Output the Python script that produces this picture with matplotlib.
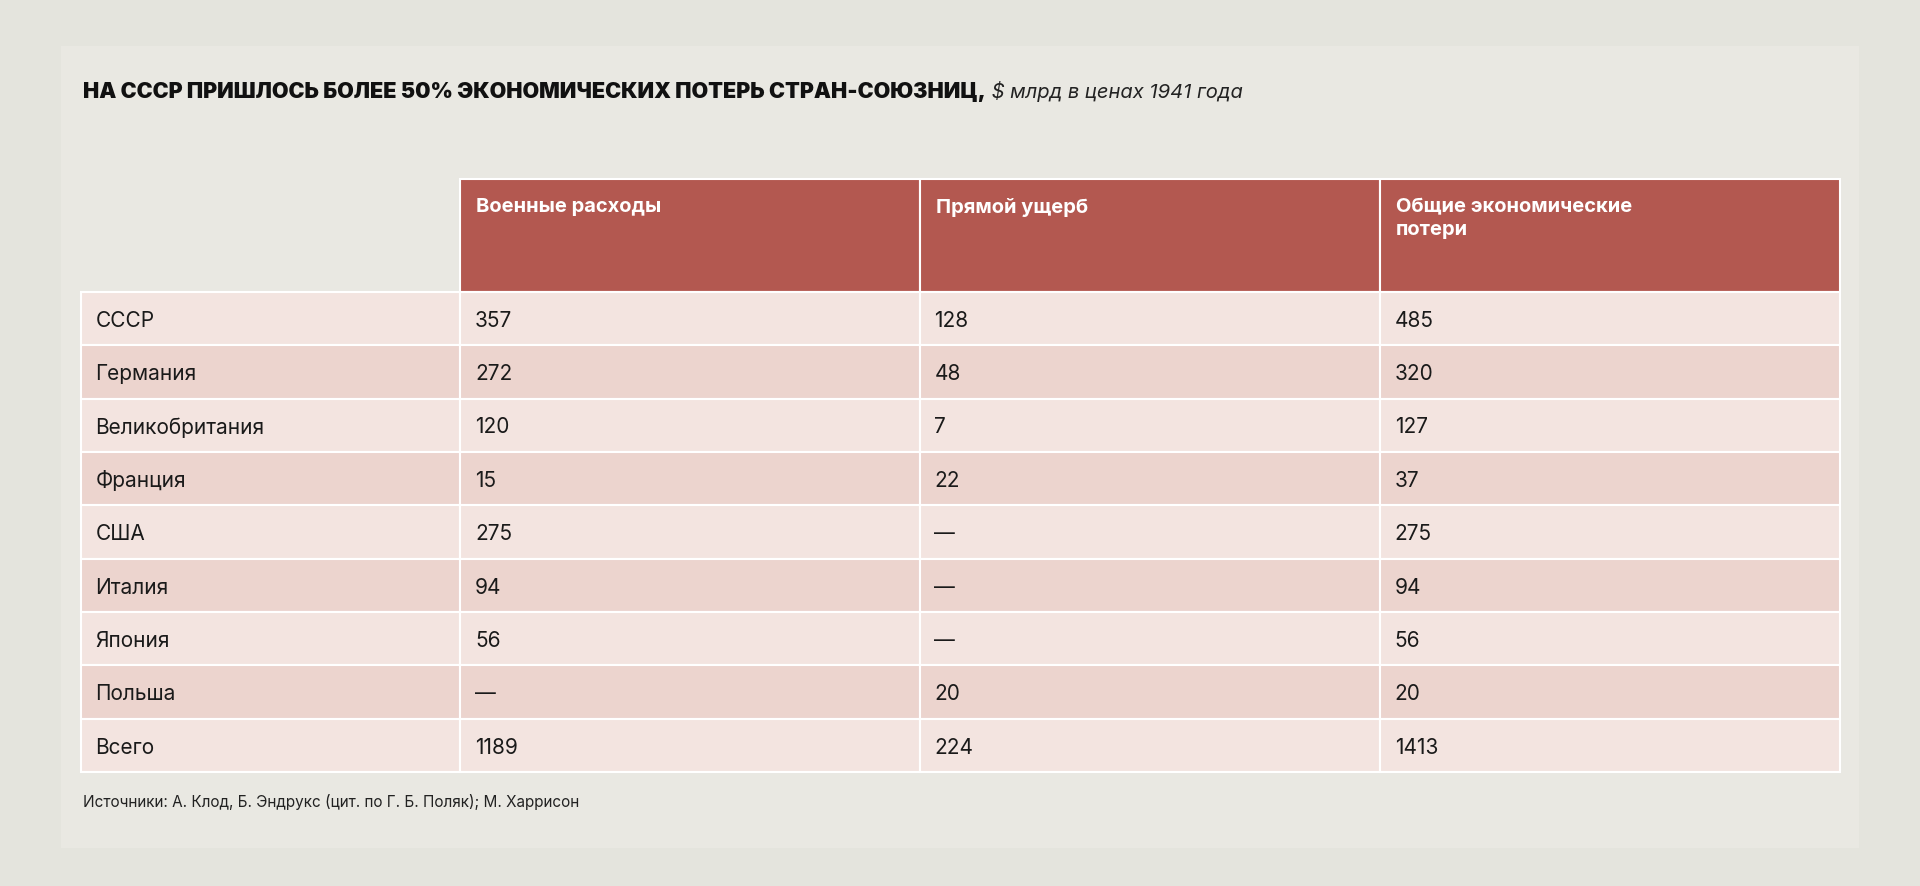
import matplotlib
matplotlib.use("Agg")
import matplotlib.pyplot as plt
from matplotlib.patches import Rectangle

title_bold = "НА СССР ПРИШЛОСЬ БОЛЕЕ 50% ЭКОНОМИЧЕСКИХ ПОТЕРЬ СТРАН-СОЮЗНИЦ,"
title_it = " $ млрд в ценах 1941 года"
headers = ["Военные расходы", "Прямой ущерб", "Общие экономические\nпотери"]
countries = ["СССР", "Германия", "Великобритания", "Франция", "США", "Италия", "Япония", "Польша", "Всего"]
military = ["357", "272", "120", "15", "275", "94", "56", "—", "1189"]
damage = ["128", "48", "7", "22", "—", "—", "—", "20", "224"]
total = ["485", "320", "127", "37", "275", "94", "56", "20", "1413"]
source = "Источники: А. Клод, Б. Эндрукс (цит. по Г. Б. Поляк); М. Харрисон"

FONT = "Inter"
fig = plt.figure(figsize=(19.2, 8.87), dpi=100)
fig.patch.set_facecolor("#e4e4dd")
ax = fig.add_axes([0, 0, 1, 1])
ax.set_xlim(0, 1568); ax.set_ylim(724, 0); ax.axis("off")
ax.add_patch(Rectangle((50, 38), 1468, 655, facecolor="#e9e8e2", edgecolor="none"))

t = ax.text(68, 75, title_bold, fontsize=15.5, fontweight="black", family=FONT, va="center", color="#111")
fig.canvas.draw()
bb = t.get_window_extent().transformed(ax.transData.inverted())
ax.text(bb.x1, 75, title_it, fontsize=14.5, style="italic", family=FONT, va="center", color="#222")

cols = [66, 376, 751, 1127, 1503]
htop, hbot, tbot = 147, 239, 631
rh = (tbot - hbot) / len(countries)
for j in range(3):
    ax.add_patch(Rectangle((cols[j+1], htop), cols[j+2]-cols[j+1], hbot-htop, facecolor="#b35850", edgecolor="white", lw=1.5))
    ax.text(cols[j+1]+13, htop+15, headers[j], color="white", fontsize=14.5, fontweight="bold", family=FONT, va="top", linespacing=1.3)
for i, c in enumerate(countries):
    y = hbot + i*rh
    fc = "#f3e4e0" if i % 2 == 0 else "#ecd4ce"
    vals = [c, military[i], damage[i], total[i]]
    for j in range(4):
        ax.add_patch(Rectangle((cols[j], y), cols[j+1]-cols[j], rh, facecolor=fc, edgecolor="white", lw=1.5))
        ax.text(cols[j]+12, y+rh/2+1, vals[j], fontsize=15, family=FONT, va="center", color="#1a1a1a")
ax.text(68, 655, source, fontsize=11, family=FONT, va="center", color="#222")
fig.savefig("out.png", dpi=100, facecolor=fig.get_facecolor())
